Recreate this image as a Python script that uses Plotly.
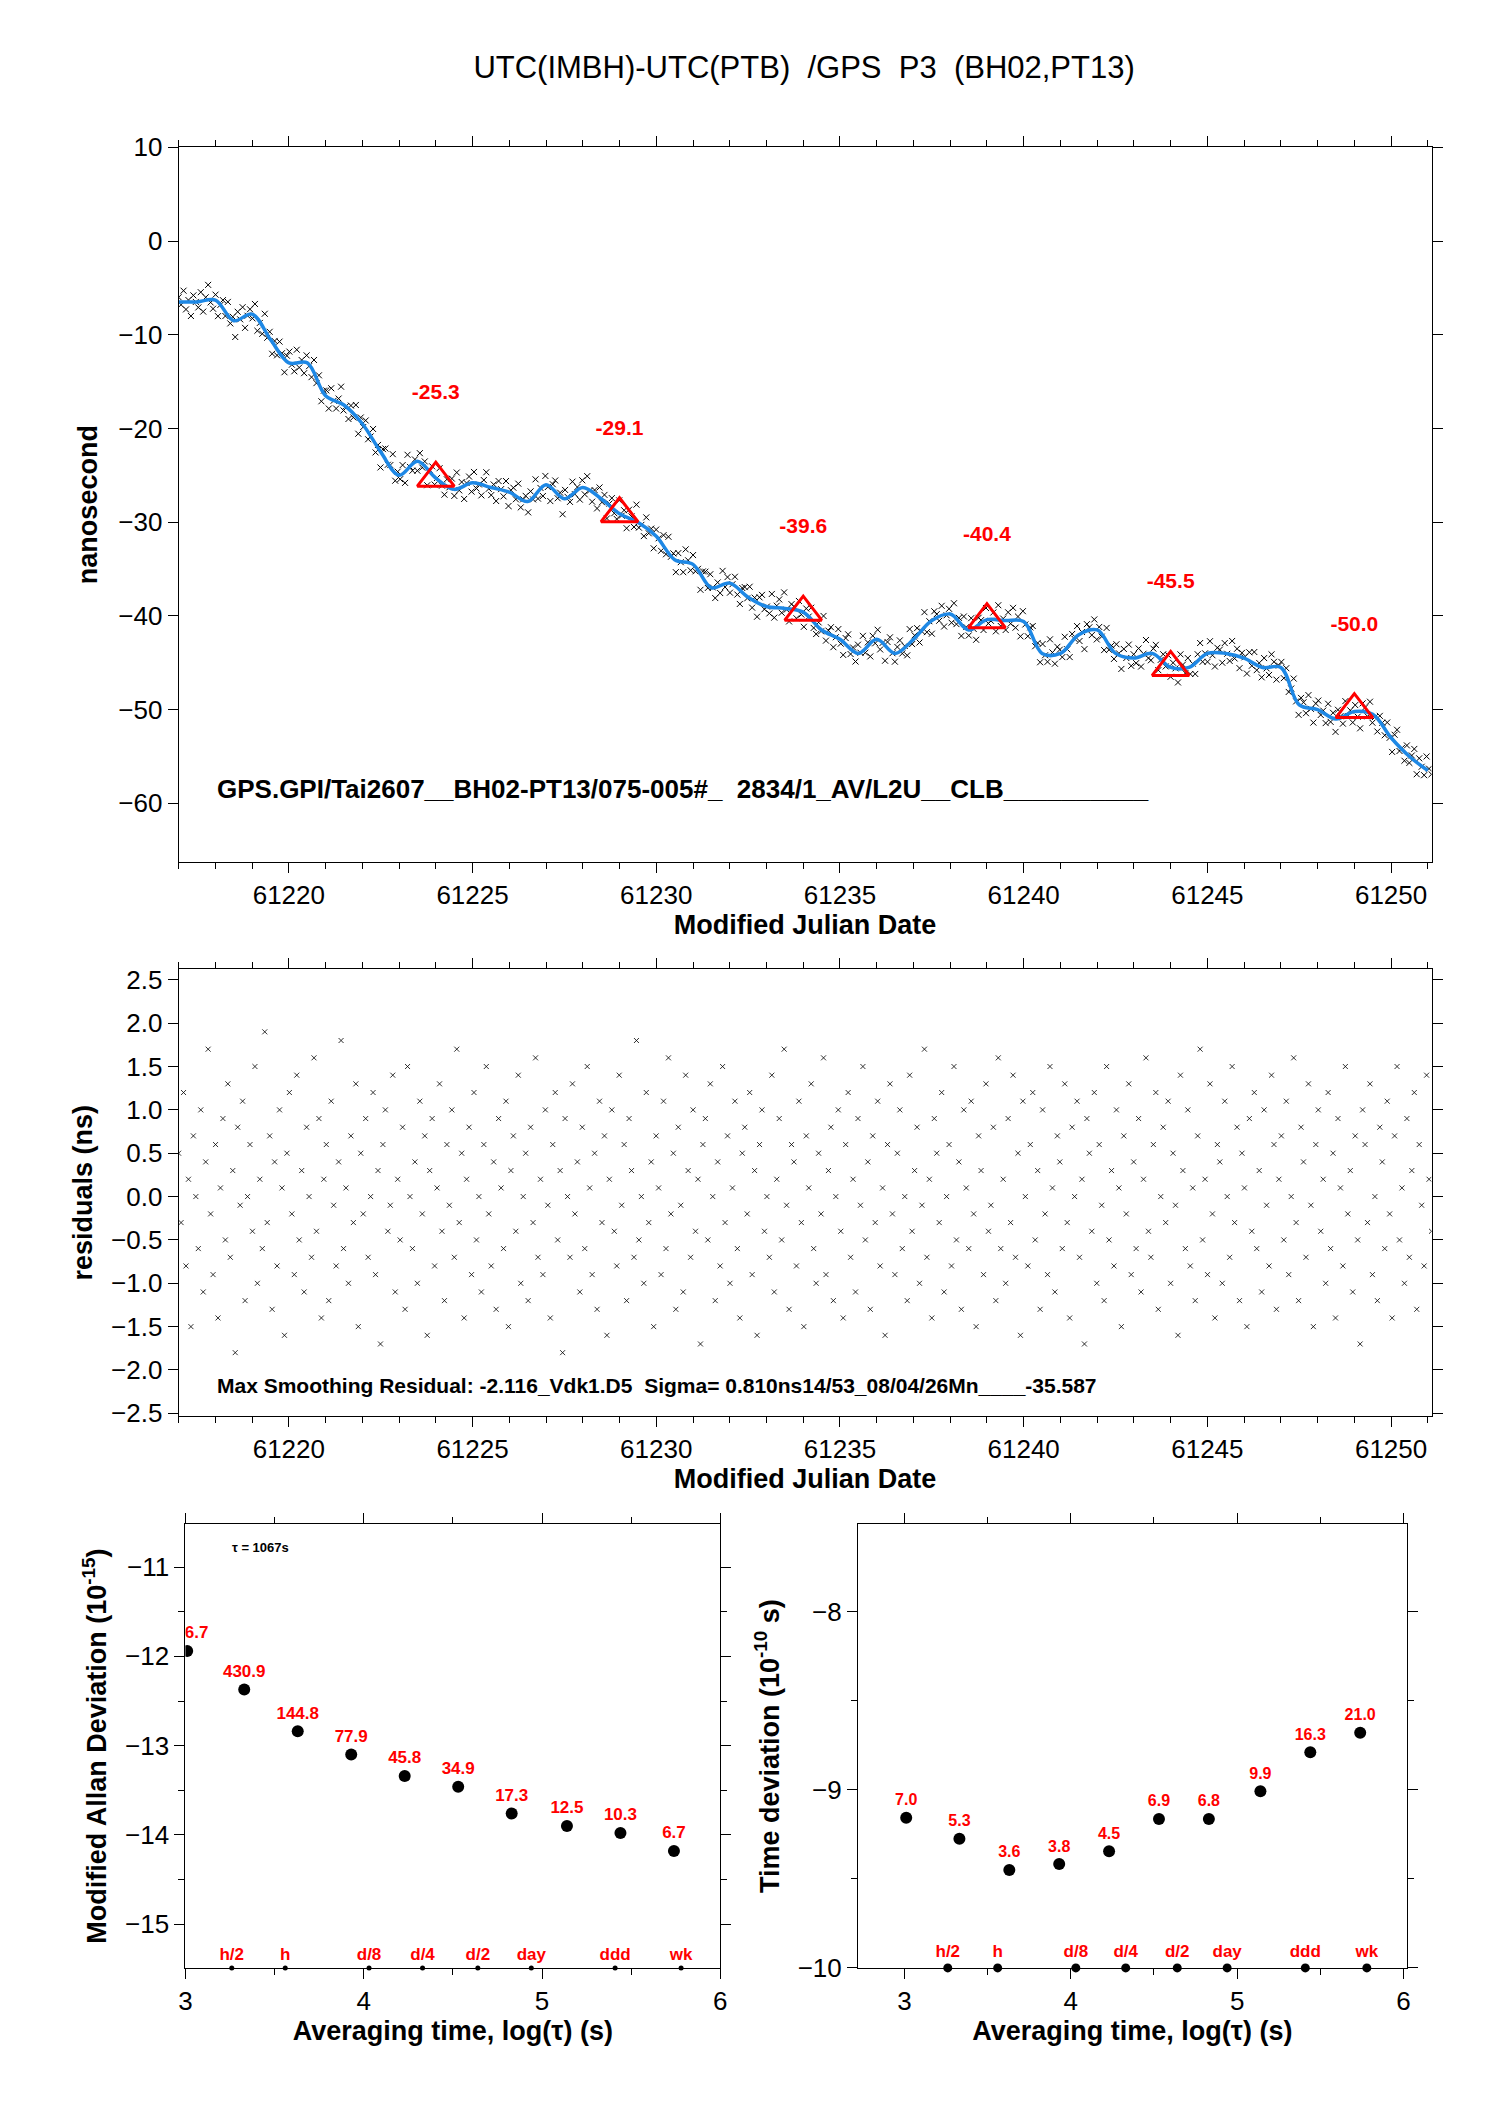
import plotly.graph_objects as go
import numpy as np

# Smoothed curve (MJD, ns)
smooth_mjd = [61217+0.5*i for i in range(69)]
smooth_ns = [-6.5,-6.5,-6.3,-8.5,-7.8,-10.5,-13,-13,-16.5,-17.5,-19.5,-22.5,-25,-23.5,-25.3,-26.5,
             -25.8,-26.3,-26.8,-27.8,-26,-27.5,-26.3,-27.5,-29.1,-30,-31.5,-34,-34.5,-37,-36.5,-38,
             -39,-39.2,-39.6,-41.5,-42.5,-44,-42.5,-44,-42.5,-40.5,-39.8,-41.5,-40.4,-40.5,-40.6,-44,
             -44,-42,-41.5,-44,-44.5,-44,-45.5,-45.5,-44,-44,-44.5,-45.5,-45.5,-49.5,-50,-51,-50.2,
             -50.5,-53,-55,-56.5]

# Residuals in tenths of ns, evenly spread in time
resid_tenths = [5,-3,12,-8,2,-15,7,0,-6,10,-11,4,17,-2,-9,6,-14,1,9,-5,13,-7,3,-18,8,-1,11,-12,0,6,
 -4,15,-10,2,-6,19,-3,7,-13,4,-8,10,1,-16,5,12,-2,-9,14,-5,3,-11,8,0,-7,16,-4,9,-14,2,
 6,-12,11,-1,-8,4,18,-6,1,-10,7,-3,13,-15,5,-2,9,-7,0,12,-9,3,-17,6,10,-4,-1,14,-11,2,
 -5,8,-13,15,0,-6,4,-10,11,-2,7,-16,3,9,-8,1,13,-4,-12,6,-1,10,-7,17,-3,5,-14,2,8,-9,
 12,-5,0,-11,6,15,-2,-8,4,-13,9,1,-6,11,-15,3,7,-4,14,-10,0,5,-12,8,-3,16,-7,2,-9,10,
 -1,-14,6,12,-5,3,-18,9,0,-7,13,-2,4,-11,8,-6,15,1,-9,5,-13,11,-3,7,-16,2,10,-4,-8,14,
 -1,6,-12,9,3,-7,18,-5,0,-10,12,-3,4,-15,7,1,-9,11,-6,16,-2,5,-13,8,-1,-11,14,3,-7,10,
 -4,2,-17,6,9,-5,13,0,-12,4,-8,15,-3,7,-10,1,11,-6,-14,5,8,-2,12,-9,3,-16,6,10,-4,0,
 -7,14,-11,2,9,-5,17,-1,-13,6,4,-8,11,-3,-15,7,1,13,-6,-10,5,-2,16,-9,3,8,-12,0,10,-4,
 -14,6,12,-7,2,-11,9,-1,15,-5,4,-13,7,-3,11,-8,1,-16,6,13,-2,-9,5,10,-6,0,-12,14,-4,3,
 8,-10,-1,17,-7,2,-14,9,5,-3,12,-11,0,6,-8,15,-5,4,-13,10,1,-6,11,-2,-15,7,3,-9,13,-4,
 -1,8,-12,16,-6,2,-10,9,-3,14,-7,5,-16,11,0,-8,6,12,-5,3,-13,10,-2,-9,15,1,-11,7,4,-6,
 13,-3,-14,8,0,11,-7,2,-17,9,5,-4,12,-10,6,-1,-12,15,-5,3,-8,10,1,-15,7,-2,13,-9,4,-6,
 9,-11,2,16,-4,-7,6,12,-13,0,8,-3,11,-10,5,-1,-16,14,3,-6,10,-8,1,-12,7,17,-5,2,-9,13,
 -2,-14,6,4,-10,11,0,-7,15,-3,8,-12,5,1,-15,9,-4,12,-6,3,-11,10,-1,-8,14,6,-13,2,7,-5,
 11,-9,0,16,-3,-12,8,4,-7,13,-1,-15,6,10,-4,2,-10,12,-6,5,-14,9,1,-8,15,-2,3,-11,7,-5,
 -17,10,6,-3,13,-9,0,-12,8,4,-6,11,-2,-14,7,15,-5,1,-10,9,-7,3,12,-13,6,-1,-8,14,2,-4]

tau_log = [3.01,3.33,3.63,3.93,4.23,4.53,4.83,5.14,5.44,5.74]
adev_log = [-11.94,-12.37,-12.84,-13.10,-13.34,-13.46,-13.76,-13.90,-13.98,-14.18]
adev_lbl = ["836.7","430.9","144.8","77.9","45.8","34.9","17.3","12.5","10.3","6.7"]
tdev_log = [-9.157,-9.275,-9.45,-9.417,-9.345,-9.164,-9.164,-9.008,-8.79,-8.68]
tdev_lbl = ["7.0","5.3","3.6","3.8","4.5","6.9","6.8","9.9","16.3","21.0"]
mark_lbl = ["h/2","h","d/8","d/4","d/2","day","ddd","wk"]
mark_x = [3.26,3.56,4.03,4.33,4.64,4.94,5.41,5.78]
tri_mjd = [61224,61229,61234,61239,61244,61249]
tri_val = [-25.3,-29.1,-39.6,-40.4,-45.5,-50.0]

res = np.array(resid_tenths)/10.0
t = np.linspace(61217.0, 61251.1, len(res))
top_y = np.interp(t, smooth_mjd, smooth_ns) + res

F = "Liberation Sans"
fig = go.Figure()
xs = dict(symbol="x-thin-open", size=6, line=dict(color="black", width=1), color="black")
fig.add_trace(go.Scatter(x=t, y=top_y, mode="markers", marker=xs, xaxis="x", yaxis="y"))
fig.add_trace(go.Scatter(x=smooth_mjd, y=smooth_ns, mode="lines", line=dict(color="#1e88e5", width=3.5, shape="spline"), xaxis="x", yaxis="y"))
fig.add_trace(go.Scatter(x=tri_mjd, y=tri_val, mode="markers", marker=dict(symbol="triangle-up-open", size=32, line=dict(color="red", width=3), color="red"), xaxis="x", yaxis="y"))
fig.add_trace(go.Scatter(x=tri_mjd, y=[v+9 for v in tri_val], mode="text", text=["%.1f" % v for v in tri_val],
                         textfont=dict(color="red", size=21, family=F, weight="bold"), xaxis="x", yaxis="y"))
fig.add_trace(go.Scatter(x=t, y=res, mode="markers", marker=dict(symbol="x-thin-open", size=5, color="black", line=dict(color="black", width=0.8)), xaxis="x2", yaxis="y2"))
# Allan
fig.add_trace(go.Scatter(x=tau_log, y=adev_log, mode="markers+text", text=adev_lbl, textposition="top center",
                         marker=dict(color="black", size=12), textfont=dict(color="red", size=17, family=F, weight="bold"), xaxis="x3", yaxis="y3"))
fig.add_trace(go.Scatter(x=mark_x, y=[-15.49]*8, mode="markers+text", text=mark_lbl, textposition="top center",
                         marker=dict(color="black", size=5), textfont=dict(color="red", size=17, family=F, weight="bold"), xaxis="x3", yaxis="y3", cliponaxis=False))
fig.add_trace(go.Scatter(x=tau_log, y=tdev_log, mode="markers+text", text=tdev_lbl, textposition="top center",
                         marker=dict(color="black", size=12), textfont=dict(color="red", size=16, family=F, weight="bold"), xaxis="x4", yaxis="y4"))
fig.add_trace(go.Scatter(x=mark_x, y=[-10]*8, mode="markers+text", text=mark_lbl, textposition="top center",
                         marker=dict(color="black", size=9), textfont=dict(color="red", size=17, family=F, weight="bold"), xaxis="x4", yaxis="y4", cliponaxis=False))

ax = dict(showgrid=False, zeroline=False, showline=True, linecolor="black", linewidth=1, mirror="allticks",
          ticks="outside", ticklen=10, tickcolor="black", tickfont=dict(size=26, family=F, color="black"))
tt = lambda s: dict(text=s, font=dict(size=27, family=F, color="black", weight="bold"))
mn = dict(ticks="outside", ticklen=6, tickcolor="black")
fig.update_layout(
    width=1488, height=2105, margin=dict(l=0, r=0, t=0, b=0), showlegend=False,
    plot_bgcolor="white", paper_bgcolor="white",
    title=dict(text="UTC(IMBH)-UTC(PTB)  /GPS  P3  (BH02,PT13)", x=0.535, xanchor="center", y=0.977,
               font=dict(size=31, family=F, color="black")),
    xaxis=dict(ax, domain=[0.111, 0.961], anchor="y", range=[61217.0, 61251.1], dtick=5, tick0=61220, tickformat="d",
               minor=dict(mn, dtick=1), title=tt("Modified Julian Date"), title_standoff=2),
    yaxis=dict(ax, domain=[0.5957, 0.9401], anchor="x", range=[-66.25, 10], dtick=10, tickformat="d", title=tt("nanosecond"), title_standoff=12),
    xaxis2=dict(ax, domain=[0.111, 0.961], anchor="y2", range=[61217.0, 61251.1], dtick=5, tick0=61220, tickformat="d",
                minor=dict(mn, dtick=1), title=tt("Modified Julian Date"), title_standoff=2),
    yaxis2=dict(ax, domain=[0.3287, 0.5439], anchor="x2", range=[-2.53, 2.62], dtick=0.5, tickformat=".1f", title=tt("residuals (ns)"), title_standoff=10),
    xaxis3=dict(ax, domain=[0.1156, 0.4785], anchor="y3", range=[3, 6], dtick=1,
                minor=dict(mn, dtick=0.5), title=tt("Averaging time, log(τ) (s)"), title_standoff=2),
    yaxis3=dict(ax, domain=[0.0627, 0.2765], anchor="x3", range=[-15.49, -10.52], dtick=1,
                minor=dict(mn, dtick=0.5), title=tt("Modified Allan Deviation (10<sup>-15</sup>)"), title_standoff=10),
    xaxis4=dict(ax, domain=[0.5719, 0.9442], anchor="y4", range=[2.72, 6.02], dtick=1,
                minor=dict(mn, dtick=0.5), title=tt("Averaging time, log(τ) (s)"), title_standoff=2),
    yaxis4=dict(ax, domain=[0.0627, 0.2765], anchor="x4", range=[-10, -7.51], dtick=1,
                minor=dict(mn, dtick=0.5), title=tt("Time deviation (10<sup>-10</sup> s)"), title_standoff=10),
    annotations=[
        dict(xref="x", yref="y", x=61218, y=-58.5, xanchor="left", showarrow=False,
             text="GPS.GPI/Tai2607__BH02-PT13/075-005#_  2834/1_AV/L2U__CLB__________",
             font=dict(size=26, family=F, color="black", weight="bold")),
        dict(xref="x2", yref="y2", x=61218, y=-2.18, xanchor="left", showarrow=False,
             text="Max Smoothing Residual: -2.116_Vdk1.D5  Sigma= 0.810ns14/53_08/04/26Mn____-35.587",
             font=dict(size=21, family=F, color="black", weight="bold")),
        dict(xref="x3", yref="y3", x=3.25, y=-10.78, xanchor="left", showarrow=False,
             text="τ = 1067s", font=dict(size=13, family=F, color="black", weight="bold")),
    ],
)
fig.write_html("out.html")
